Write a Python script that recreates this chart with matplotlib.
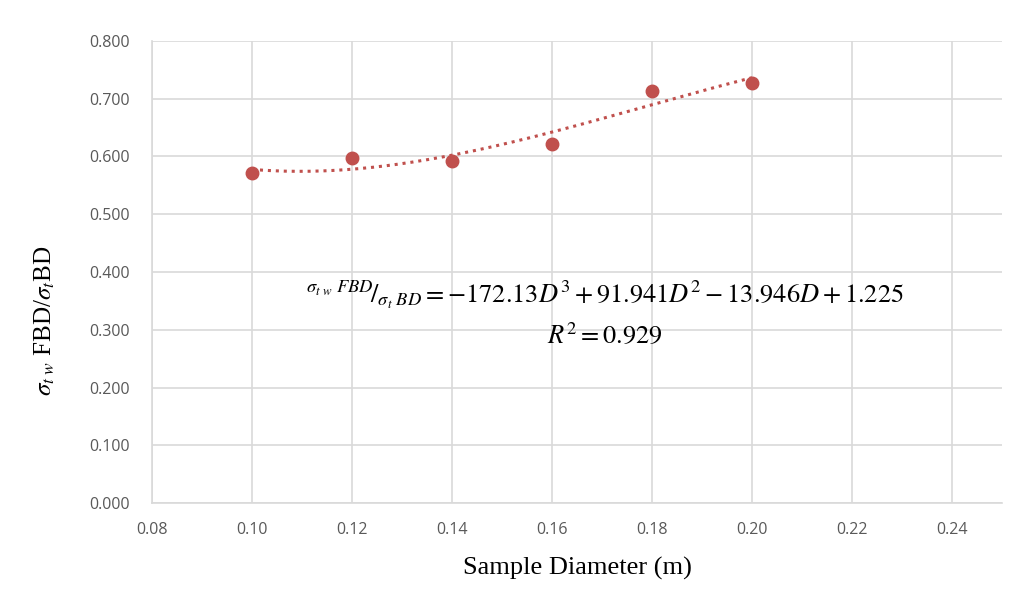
import numpy as np
import matplotlib
matplotlib.use("Agg")
import matplotlib.pyplot as plt

# Data
diameter = [0.10, 0.12, 0.14, 0.16, 0.18, 0.20]
ratio = [0.571, 0.597, 0.593, 0.621, 0.714, 0.728]
trend_coeffs = [-172.13, 91.941, -13.946, 1.225]  # cubic trendline
x_ticks = [0.08, 0.10, 0.12, 0.14, 0.16, 0.18, 0.20, 0.22, 0.24]
y_ticks = [0.0, 0.1, 0.2, 0.3, 0.4, 0.5, 0.6, 0.7, 0.8]

plt.rcParams['mathtext.fontset'] = 'stix'

fig = plt.figure(figsize=(10.3, 6.1), dpi=100)
ax = fig.add_axes([0.1476, 0.1754, 0.8252, 0.7574])

red = '#C0504D'
xs = np.linspace(min(diameter), max(diameter), 200)
ax.plot(xs, np.polyval(trend_coeffs, xs), color=red, linestyle=(0, (1, 1.6)), linewidth=2.2, zorder=3)
ax.plot(diameter, ratio, 'o', color=red, markersize=9, zorder=4)

ax.set_xlim(0.08, 0.25)
ax.set_ylim(0, 0.8)
ax.set_xticks(x_ticks)
ax.set_yticks(y_ticks)
ax.set_xticklabels([f"{v:.2f}" for v in x_ticks])
ax.set_yticklabels([f"{v:.3f}" for v in y_ticks])
ax.grid(True, color='#d9d9d9', linewidth=1.2)
ax.set_axisbelow(True)
for s in ['top', 'right']:
    ax.spines[s].set_visible(False)
for s in ['left', 'bottom']:
    ax.spines[s].set_color('#d9d9d9')
    ax.spines[s].set_linewidth(1.2)
ax.tick_params(length=0, colors='#595959', labelsize=11.5)
ax.tick_params(axis='y', pad=16)
ax.tick_params(axis='x', pad=14)
for lab in ax.get_xticklabels() + ax.get_yticklabels():
    lab.set_family('Open Sans')

ax.set_xlabel('Sample Diameter (m)', family='Liberation Serif', fontsize=19, labelpad=13)
ax.set_ylabel(r'$\sigma_{t\ w}$ FBD/$\sigma_t$BD', family='Liberation Serif', fontsize=18,
              va='center')
ax.yaxis.set_label_coords(-0.126, 0.394)

eq = r'${}^{\sigma_{t\ w}\ FBD}\!/_{\sigma_t\ BD} = -172.13D^3 + 91.941D^2 - 13.946D + 1.225$'
ax.text(0.1705, 0.360, eq, fontsize=19, ha='center', va='center')
ax.text(0.1705, 0.289, r'$R^2 = 0.929$', fontsize=19, ha='center', va='center')

fig.savefig('out.png', dpi=100, facecolor='white')
